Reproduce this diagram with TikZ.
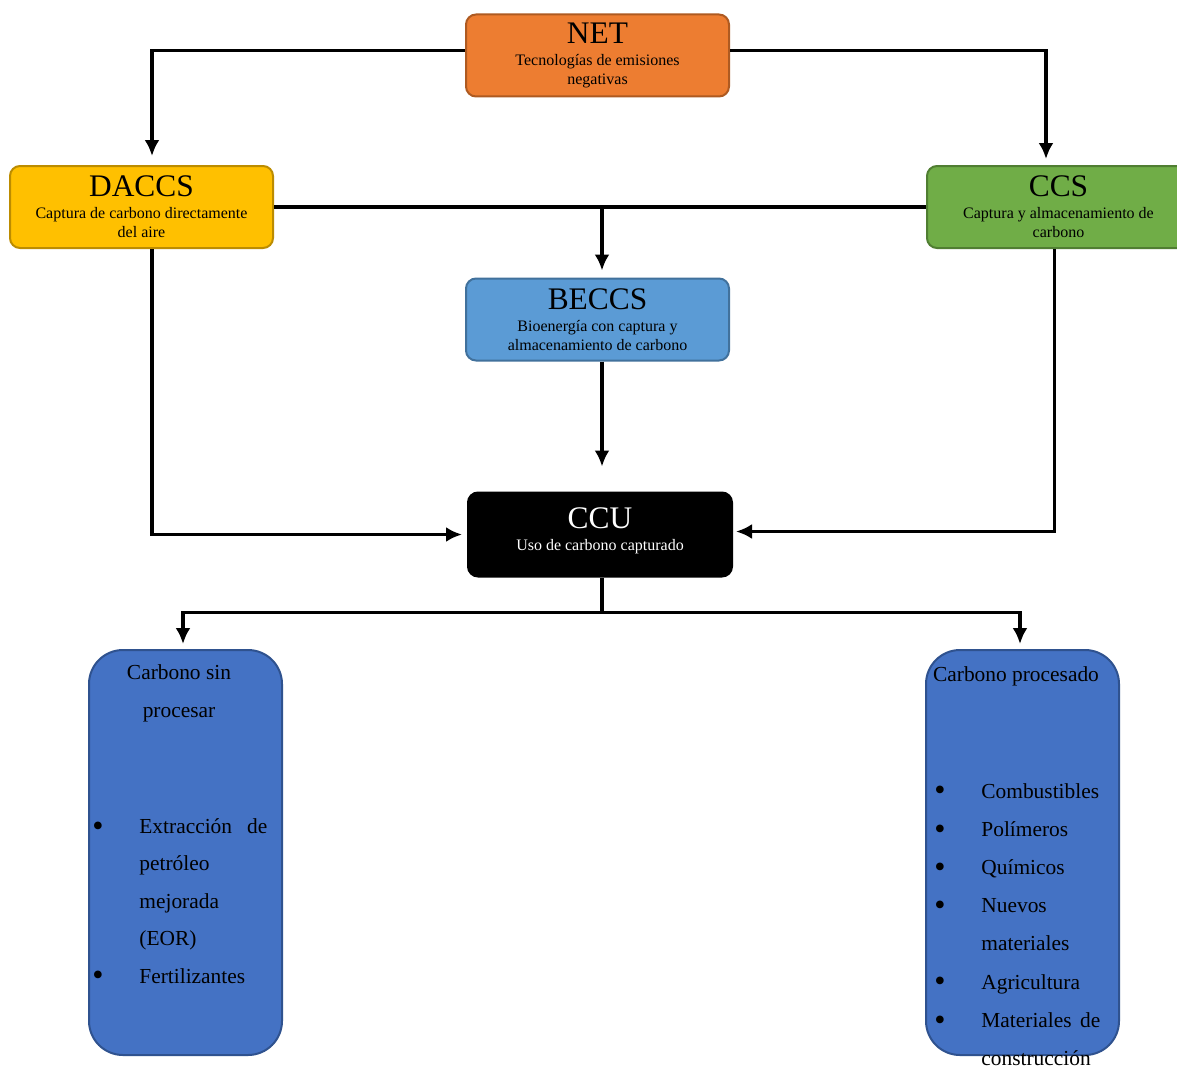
\documentclass[tikz,border=0pt]{standalone}
\usepackage{fontspec}
\setmainfont{Liberation Serif}
\usetikzlibrary{positioning,arrows.meta}
\definecolor{NetOrange}{HTML}{ED7D31}
\definecolor{NetEdge}{HTML}{AE5A21}
\definecolor{DacGold}{HTML}{FFC000}
\definecolor{DacEdge}{HTML}{BC8C00}
\definecolor{CcsGreen}{HTML}{70AD47}
\definecolor{CcsEdge}{HTML}{507E32}
\definecolor{BecBlue}{HTML}{5B9BD5}
\definecolor{BecEdge}{HTML}{41719C}
\definecolor{UseBlue}{HTML}{4472C4}
\definecolor{UseEdge}{HTML}{2F528F}
\newcommand{\boxtitle}[1]{{\fontsize{15.7}{17}\selectfont #1}}
\newcommand{\dotmark}{\raisebox{-1.4pt}[0pt][0pt]{\fontsize{16}{16}\selectfont\textbullet}}

\begin{document}
\begin{tikzpicture}[x=.5pt,y=-.5pt,
  every node/.style={font=\fontsize{8}{9.5}\selectfont},
  box/.style={draw,rounded corners=5pt,line width=1pt,minimum width=131.5pt,minimum height=41pt,align=center,inner sep=2pt},
  tall/.style={draw=UseEdge,fill=UseBlue,rounded corners=17pt,line width=1pt,minimum width=96.5pt,minimum height=202.5pt},
  list/.style={inner sep=0pt,font=\fontsize{10.7}{18.7}\selectfont},
  link/.style={line width=1.6pt},
  arr/.style={link,-{Latex[length=8pt,width=7.5pt]}}]
  \useasboundingbox[fill=white] (0,0) rectangle (1177,1065);
  % top row
  \node[box,fill=NetOrange,draw=NetEdge] (net) at (597.5,55.5) {\boxtitle{NET}\\[1.5pt]Tecnologías de emisiones\\negativas};
  \node[box,fill=DacGold,draw=DacEdge] (daccs) at (141.5,207) {\boxtitle{DACCS}\\[1.5pt]Captura de carbono directamente\\del aire};
  \node[box,fill=CcsGreen,draw=CcsEdge] (ccs) at (1058.5,207) {\boxtitle{CCS}\\[1.5pt]Captura y almacenamiento de\\carbono};
  \node[box,fill=BecBlue,draw=BecEdge,below=90pt of net] (beccs) {\boxtitle{BECCS}\\[1.5pt]Bioenergía con captura y\\almacenamiento de carbono};
  \node[box,fill=black,text=white,minimum width=132pt,minimum height=42pt,below=65pt of beccs,xshift=1.25pt] (ccu) {\boxtitle{CCU}\\[1.5pt]Uso de carbono capturado\\[-4.5pt]};
  % bottom boxes
  \node[tall] (sinproc) at (185.5,852.5) {};
  \node[tall] (proc) at (1022.5,852.5) {};
  \node[list,align=center,font=\fontsize{10.7}{19}\selectfont] (sintitle) at (179,693) {Carbono sin\\procesar};
  \node[list] (proctitle) at (1016,676) {Carbono procesado};
  \node[list,anchor=north west] (sinlist) at (92,807) {\begin{tabular}[t]{@{}p{23.5pt}@{}l@{}}
    \dotmark & \hbox to 64pt{Extracción\hfill de}\\
    & petróleo\\
    & mejorada\\
    & (EOR)\\
    \dotmark & Fertilizantes
  \end{tabular}};
  \node[list,font=\fontsize{10.7}{19.1}\selectfont,anchor=north west] (proclist) at (934,771) {\begin{tabular}[t]{@{}p{23.5pt}@{}l@{}}
    \dotmark & Combustibles\\
    \dotmark & Polímeros\\
    \dotmark & Químicos\\
    \dotmark & Nuevos\\
    & materiales\\
    \dotmark & Agricultura\\
    \dotmark & \hbox to 59.5pt{Materiales\hfill de}\\
    & construcción
  \end{tabular}};
  % connectors
  \draw[arr,shorten >=4.5pt] ([yshift=2.5pt]net.west) -| ([xshift=5.25pt]daccs.north);
  \draw[arr,shorten >=3pt] ([yshift=2.5pt]net.east) -| ([xshift=-6.25pt]ccs.north);
  \draw[link] (daccs.east) -- (daccs.east -| ccs.west) coordinate (ccsin);
  \coordinate (split) at (daccs.east -| beccs.north);
  \draw[arr,shorten >=3.5pt] ([xshift=2.25pt]split) -- ([xshift=2.25pt]beccs.north);
  \draw[arr,shorten >=12.5pt] ([xshift=2.25pt]beccs.south) -- ([xshift=1pt]ccu.north);
  \draw[arr,shorten >=2.5pt] ([xshift=5.25pt]daccs.south) |- (ccu.west);
  \draw[arr,shorten >=1.5pt] ([xshift=-2pt]ccs.south) |- ([yshift=1.5pt]ccu.east);
  \draw[link] ([xshift=1pt]ccu.south) -- ++(0,35) coordinate (bus);
  \draw[arr,shorten >=2.5pt] (bus) -| ([xshift=-1.25pt]sinproc.north);
  \draw[arr,shorten >=2.5pt] (bus) -| ([xshift=-1.25pt]proc.north);
\end{tikzpicture}
\end{document}
